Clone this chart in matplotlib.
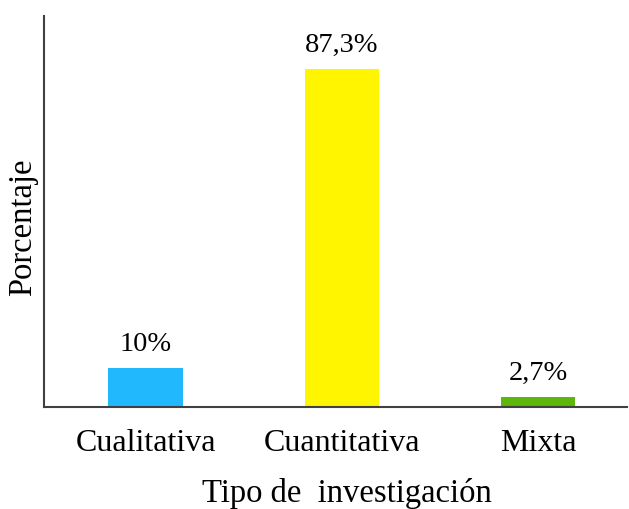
import matplotlib.pyplot as plt

# Data
categorias = ["Cualitativa", "Cuantitativa", "Mixta"]
porcentajes = [10, 87.3, 2.7]
etiquetas = ["10%", "87,3%", "2,7%"]
colores = ["#22B8FD", "#FFF500", "#5DB60A"]

plt.rcParams['font.family'] = ['Liberation Serif', 'DejaVu Serif']

fig = plt.figure(figsize=(6.29, 5.09), dpi=100)
ax = fig.add_axes([0.070, 0.2004, 0.927, 0.768])

x = range(len(categorias))
bars = ax.bar(x, porcentajes, width=0.38, color=colores)

# value labels above bars
for b, lab in zip(bars, etiquetas):
    ax.annotate(lab, (b.get_x() + b.get_width() / 2, b.get_height()),
                xytext=(0, 8), textcoords='offset points',
                ha='center', va='bottom', fontsize=20.5)

ax.set_xlim(-0.517, 2.453)
ax.set_ylim(0, 101)
ax.set_xticks(list(x))
ax.set_xticklabels(categorias, fontsize=23)
ax.set_yticks([])
ax.tick_params(axis='x', length=0, pad=16)

ax.set_xlabel("Tipo de  investigación", fontsize=23.5, labelpad=14)
ax.xaxis.label.set_x(0.52)
ax.set_ylabel("Porcentaje", fontsize=23.5, labelpad=4)
ax.yaxis.label.set_y(0.46)

for s in ['top', 'right']:
    ax.spines[s].set_visible(False)
for s in ['left', 'bottom']:
    ax.spines[s].set_color('#404040')
    ax.spines[s].set_linewidth(1.5)

fig.savefig("out.png", dpi=100)
